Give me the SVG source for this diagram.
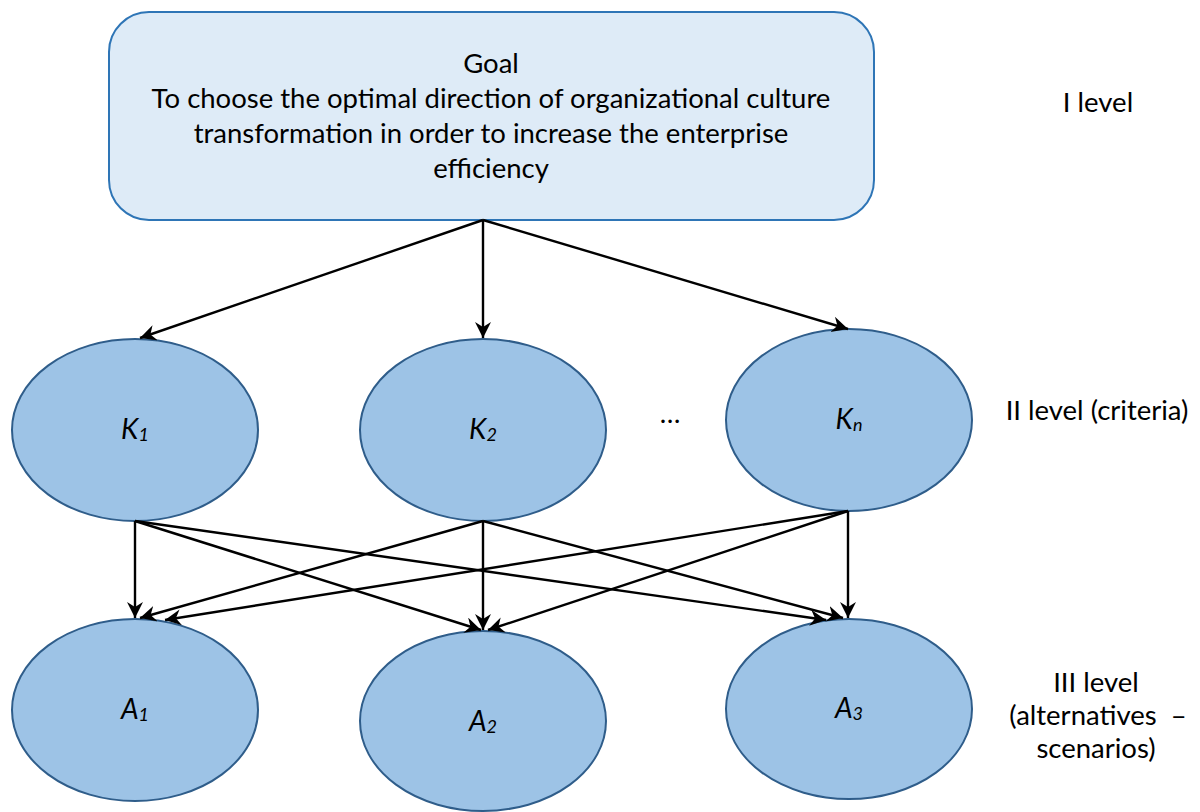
<svg xmlns="http://www.w3.org/2000/svg" width="1200" height="812" viewBox="0 0 1200 812">
<style>
.lbl{font-family:Lato,"Open Sans","Liberation Sans",sans-serif;font-size:27.5px;fill:#000;text-anchor:middle}
.node{fill:#9dc3e6;stroke:#2f5d8a;stroke-width:2}
.goal{fill:#deebf7;stroke:#2e75b6;stroke-width:2}
.c{stroke:#000;stroke-width:2.4;fill:none;marker-end:url(#ah)}
.it{font-family:Lato,"Open Sans","Liberation Sans",sans-serif;font-size:28px;font-style:italic;text-anchor:middle}
.sub{font-size:18px}
</style>
<defs>
<marker id="ah" markerUnits="userSpaceOnUse" markerWidth="22" markerHeight="22" refX="16" refY="8" orient="auto">
<path d="M0,0 L16,8 L0,16 L5,8 z" fill="#000"/>
</marker>
</defs>
<g id="goal">
<rect class="goal" x="109" y="12" width="765" height="208" rx="40" ry="40"/>
<text class="lbl" x="491" y="73">Goal</text>
<text class="lbl" x="491" y="108">To choose the optimal direction of organizational culture</text>
<text class="lbl" x="491" y="143">transformation in order to increase the enterprise</text>
<text class="lbl" x="491" y="178">efficiency</text>
</g>
<g id="k1">
<ellipse class="node" cx="135" cy="430" rx="123" ry="91"/>
<text class="it" x="135" y="439">K<tspan class="sub" dy="2">1</tspan></text>
</g>
<g id="k2">
<ellipse class="node" cx="483" cy="430" rx="123" ry="91"/>
<text class="it" x="483" y="439">K<tspan class="sub" dy="2">2</tspan></text>
</g>
<g id="dots">
<text class="lbl" x="670" y="423">…</text>
</g>
<g id="kn">
<ellipse class="node" cx="849" cy="420" rx="123" ry="91"/>
<text class="it" x="849" y="429">K<tspan class="sub" dy="2">n</tspan></text>
</g>
<g id="a1">
<ellipse class="node" cx="135" cy="710" rx="123" ry="91"/>
<text class="it" x="135" y="719">A<tspan class="sub" dy="2">1</tspan></text>
</g>
<g id="a2">
<ellipse class="node" cx="483" cy="721" rx="123" ry="90"/>
<text class="it" x="483" y="731">A<tspan class="sub" dy="2">2</tspan></text>
</g>
<g id="a3">
<ellipse class="node" cx="849" cy="709" rx="123" ry="90"/>
<text class="it" x="849" y="718">A<tspan class="sub" dy="2">3</tspan></text>
</g>
<g id="levels">
<text class="lbl" x="1098" y="112">I level</text>
<text class="lbl" x="1097" y="420">II level (criteria)</text>
<text class="lbl" x="1096" y="692">III level</text>
<text class="lbl" x="1098" y="725" xml:space="preserve">(alternatives  –</text>
<text class="lbl" x="1096" y="758">scenarios)</text>
</g>
<g id="connectors">
<line class="c" x1="483" y1="220" x2="140" y2="338"/>
<line class="c" x1="483" y1="220" x2="483" y2="338"/>
<line class="c" x1="483" y1="220" x2="848" y2="329"/>
<line class="c" x1="135" y1="521" x2="135" y2="618"/>
<line class="c" x1="135" y1="521" x2="481" y2="630"/>
<line class="c" x1="135" y1="521" x2="826" y2="620"/>
<line class="c" x1="483" y1="521" x2="140" y2="618"/>
<line class="c" x1="483" y1="521" x2="483" y2="630"/>
<line class="c" x1="483" y1="521" x2="843" y2="618"/>
<line class="c" x1="848" y1="511" x2="165" y2="620"/>
<line class="c" x1="848" y1="511" x2="488" y2="630"/>
<line class="c" x1="848" y1="511" x2="848" y2="618"/>
</g>
</svg>
